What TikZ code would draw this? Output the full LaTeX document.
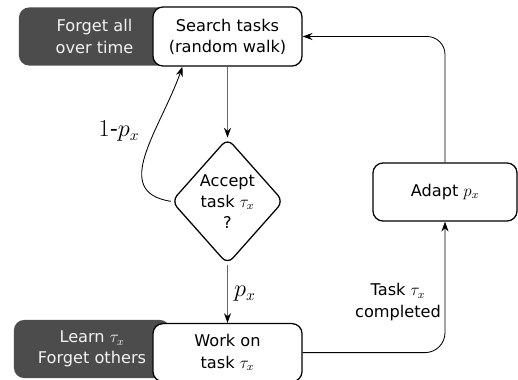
\documentclass[tikz,border=0pt]{standalone}
\usepackage{fontspec}
\setmainfont{DejaVu Sans}
\usetikzlibrary{shapes.geometric, arrows.meta, positioning}

\begin{document}
\begin{tikzpicture}[
    x=0.025cm, y=-0.025cm,
    font=\fontsize{11.5}{15}\selectfont,
    box/.style={rectangle, draw, line width=0.9pt, rounded corners=0.25cm, fill=white, minimum width=3.725cm, minimum height=1.45cm, align=center},
    darkbox/.style={rectangle, rounded corners=0.25cm, fill=black!70, text=black!5, minimum height=1.45cm, align=center},
    decision/.style={diamond, draw, line width=0.9pt, rounded corners=0.2cm, fill=white, minimum width=2.8cm, minimum height=3.15cm, inner sep=0pt, align=center},
    arrow/.style={-{Stealth[length=7pt, width=5pt, color=black]}, line width=0.6pt},
    grayarrow/.style={arrow, draw=black!60, line width=0.8pt},
    label/.style={font=\fontsize{16}{16}\selectfont}
]
\useasboundingbox (0,0) rectangle (518,380);
% Dark boxes behind
\node[darkbox, minimum width=3.775cm] (forgetall) at (94.5,36.5) {Forget all\\over time};
\node[darkbox, minimum width=3.9cm] (learn) at (92,349) {Learn $\tau_x$\\Forget others};
% Search
\node[box, minimum height=1.475cm] (search) at (227.5,36.5) {Search tasks\\(random walk)};
% Accept
\node[decision, below=1.775cm of search] (accept) {Accept\\task $\tau_x$\\?};
% Work
\node[box, below=1.45cm of accept] (work) {Work on\\task $\tau_x$};
% Adapt
\node[box, minimum width=3.6cm] (adapt) at (445,192) {Adapt $p_x$};
% Arrows
\draw[grayarrow] (search) -- (accept);
\draw[grayarrow] (accept) -- node[label, right=1pt] {$p_x$} (work);
\draw[arrow] (accept.west) .. controls (110,192) and (160,130) .. ([xshift=-1.125cm]search.south);
\draw[arrow, rounded corners=0.5cm] (work.east) -| (adapt.south);
\draw[arrow, rounded corners=0.45cm] (adapt.north) |- (search.east);
% Labels
\node[label] (reject) at (119,131) {$1$-$p_x$};
\node[align=center] (done) at (398,302) {Task $\tau_x$\\completed};
\end{tikzpicture}
\end{document}
